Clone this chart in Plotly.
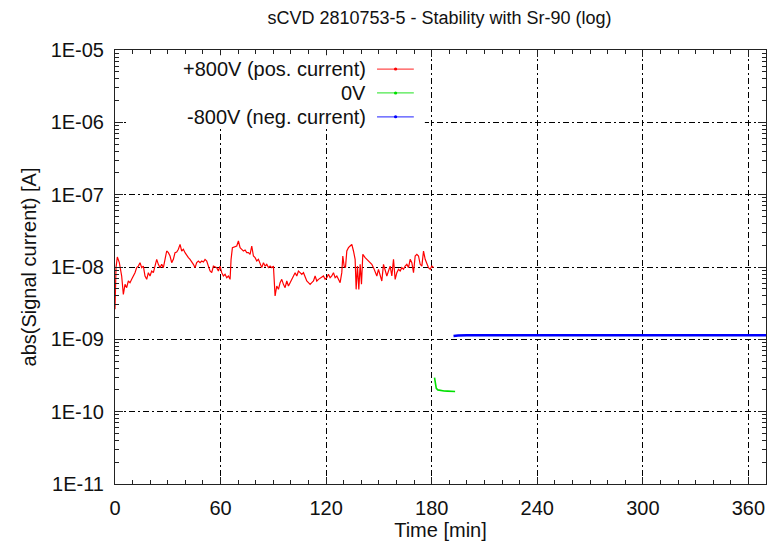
import plotly.graph_objects as go

# ---------------- data ----------------
red_t = [0.0, 0.57, 1.33, 2.46, 3.79, 4.74, 5.69, 6.64, 7.58, 8.53, 9.48, 10.43, 11.37, 12.32,
         13.27, 14.22, 15.17, 16.11, 17.06, 18.01, 18.96, 19.90, 20.85, 21.80, 22.75, 23.70,
         24.64, 25.59, 26.54, 27.49, 28.43, 29.38, 30.33, 31.28, 32.23, 33.17, 34.12, 35.07,
         36.02, 36.97, 37.91, 38.86, 39.81, 40.76, 41.71, 42.65, 43.60, 44.55, 45.50, 46.44,
         47.39, 48.34, 49.29, 50.24, 51.18, 52.13, 53.08, 54.03, 54.97, 55.92,
         57.82, 58.77, 59.71, 60.66, 61.61, 62.56, 63.51, 64.45, 65.40, 65.97, 66.73, 67.87,
         69.19, 70.14, 71.09, 72.04, 72.98, 73.93, 74.88, 75.83, 76.77, 77.72, 78.67, 79.62,
         80.57, 81.51, 82.46, 83.41, 84.36, 85.31, 86.25, 87.20, 88.15, 89.10, 90.04, 90.99,
         91.94, 92.89, 93.84, 94.78, 95.73, 96.68, 97.63, 98.58, 99.52, 100.47, 101.42,
         102.37, 103.32, 104.26, 105.21, 106.16, 107.11, 108.06, 109.00, 109.95, 110.90,
         111.85, 112.80, 113.74, 114.69, 115.64,
         118.48, 119.42, 120.37, 121.32, 122.27, 123.22, 124.16, 125.11, 126.06, 127.01,
         127.95, 128.90, 129.47, 130.23, 130.99, 131.75, 132.69, 133.64, 134.59, 135.54,
         136.48, 137.05, 137.81, 138.57, 139.33, 140.09, 140.85, 142.17, 143.12, 144.07,
         145.02, 145.96, 146.91, 147.86, 148.81, 149.75, 150.70, 151.65, 152.60, 153.55,
         154.49, 155.44, 156.39, 157.34, 158.29, 159.23, 160.18, 161.13, 162.08, 163.02,
         163.97, 164.92, 165.87, 166.82, 167.76, 168.71, 169.66, 170.61, 171.56, 172.50,
         173.45, 174.40, 175.35, 176.29, 177.24, 178.19, 179.14, 180.09, 181.03]
red_i = [2.6e-9, 0.98e-8, 1.375e-8, 1.148e-8, 0.751e-8, 0.419e-8, 0.576e-8, 0.518e-8, 0.640e-8,
         0.607e-8, 0.675e-8, 0.751e-8, 0.835e-8, 0.98e-8, 1.03e-8, 1.148e-8, 0.98e-8, 1.03e-8,
         0.751e-8, 0.675e-8, 0.835e-8, 0.751e-8, 0.88e-8, 0.835e-8, 1.03e-8, 1.276e-8,
         1.089e-8, 0.98e-8, 1.089e-8, 0.98e-8, 1.276e-8, 1.664e-8, 1.578e-8, 1.42e-8,
         1.148e-8, 1.276e-8, 1.578e-8, 1.612e-8, 1.756e-8, 2.058e-8, 1.664e-8, 1.756e-8,
         1.578e-8, 1.42e-8, 1.346e-8, 1.276e-8, 1.148e-8, 1.089e-8, 0.98e-8, 1.148e-8,
         1.21e-8, 1.148e-8, 1.21e-8, 1.173e-8, 1.276e-8, 1.21e-8, 1.03e-8, 0.88e-8, 0.835e-8,
         1.03e-8,
         0.98e-8, 0.88e-8, 1.03e-8, 0.835e-8, 0.751e-8, 0.792e-8, 0.712e-8, 0.751e-8,
         0.675e-8, 1.276e-8, 1.851e-8, 1.911e-8, 1.951e-8, 2.287e-8, 1.851e-8, 1.756e-8,
         1.664e-8, 1.718e-8, 1.578e-8, 1.578e-8, 1.497e-8, 1.951e-8, 1.42e-8, 1.346e-8,
         1.21e-8, 1.276e-8, 1.089e-8, 0.98e-8, 1.148e-8, 1.03e-8, 1.089e-8, 0.98e-8,
         1.03e-8, 0.98e-8, 1.03e-8, 0.397e-8, 0.546e-8, 0.491e-8, 0.607e-8, 0.675e-8,
         0.576e-8, 0.518e-8, 0.640e-8, 0.546e-8, 0.607e-8, 0.675e-8, 0.712e-8, 0.835e-8,
         0.751e-8, 0.88e-8, 0.835e-8, 0.792e-8, 0.835e-8, 0.712e-8, 0.640e-8, 0.607e-8,
         0.576e-8, 0.607e-8, 0.640e-8, 0.751e-8, 0.640e-8, 0.675e-8,
         0.751e-8, 0.675e-8, 0.712e-8, 0.792e-8, 0.712e-8, 0.751e-8, 0.835e-8, 0.712e-8,
         0.751e-8, 0.675e-8, 0.607e-8, 0.835e-8, 1.42e-8, 1.03e-8, 0.98e-8, 1.664e-8,
         1.851e-8, 1.951e-8, 2.058e-8, 1.664e-8, 1.276e-8, 0.491e-8, 1.03e-8, 0.491e-8,
         1.089e-8, 0.576e-8, 1.497e-8, 1.346e-8, 1.276e-8, 1.21e-8, 1.148e-8, 1.089e-8,
         0.98e-8, 0.88e-8, 0.751e-8, 0.928e-8, 0.751e-8, 0.640e-8, 1.089e-8, 0.928e-8,
         0.751e-8, 0.88e-8, 1.03e-8, 0.751e-8, 1.276e-8, 0.675e-8, 0.835e-8, 0.928e-8,
         0.88e-8, 0.98e-8, 0.928e-8, 1.03e-8, 1.089e-8, 0.98e-8, 1.276e-8, 1.148e-8,
         0.835e-8, 1.42e-8, 1.497e-8, 1.42e-8, 1.089e-8, 1.03e-8, 1.664e-8, 1.276e-8,
         1.089e-8, 0.98e-8, 0.928e-8, 1.03e-8, 0.98e-8]

green_t = [181.6, 182.0, 182.6, 183.5, 185.0, 187.0, 189.0, 191.0, 193.3]
green_i = [2.95e-10, 2.6e-10, 2.1e-10, 2.0e-10, 1.95e-10, 1.93e-10, 1.92e-10, 1.9e-10, 1.9e-10]

blue_t = [192.4, 195, 200, 205, 210, 215, 220, 225, 230, 235, 240, 245, 250, 255, 260, 265,
          270, 275, 280, 285, 290, 295, 300, 305, 310, 315, 320, 325, 330, 335, 340, 345,
          350, 355, 360, 365, 370]
blue_i = [1.11e-9, 1.13e-9, 1.14e-9, 1.14e-9, 1.135e-9, 1.14e-9, 1.145e-9, 1.14e-9, 1.14e-9,
          1.145e-9, 1.14e-9, 1.145e-9, 1.14e-9, 1.14e-9, 1.145e-9, 1.15e-9, 1.14e-9, 1.145e-9,
          1.15e-9, 1.145e-9, 1.14e-9, 1.145e-9, 1.15e-9, 1.145e-9, 1.14e-9, 1.145e-9, 1.14e-9,
          1.145e-9, 1.15e-9, 1.145e-9, 1.14e-9, 1.145e-9, 1.15e-9, 1.145e-9, 1.14e-9,
          1.145e-9, 1.14e-9]

series_names = ["+800V (pos. current)", "0V", "-800V (neg. current)"]
series_colors = ["#ff0000", "#00e000", "#0000ff"]

x_ticks = [0, 60, 120, 180, 240, 300, 360]
y_tickvals = [1e-11, 1e-10, 1e-9, 1e-8, 1e-7, 1e-6, 1e-5]
y_ticktext = ["1E-11", "1E-10", "1E-09", "1E-08", "1E-07", "1E-06", "1E-05"]

# ---------------- figure ----------------
FONT = "Liberation Sans, Arial, Helvetica, sans-serif"
fig = go.Figure()
for t, v, c, w in [(red_t, red_i, series_colors[0], 1.2),
                   (green_t, green_i, series_colors[1], 1.6),
                   (blue_t, blue_i, series_colors[2], 2.6)]:
    fig.add_trace(go.Scatter(x=t, y=v, mode="lines", line=dict(color=c, width=w),
                             showlegend=False, hoverinfo="skip"))

grid_dash = "6px,3px,2px,3px"
fig.update_xaxes(
    range=[0, 370], tickvals=x_ticks, ticks="inside", ticklen=7, tickcolor="#222",
    showline=True, linecolor="#222", linewidth=1, mirror="ticks",
    showgrid=True, gridcolor="#000", griddash=grid_dash, gridwidth=1, zeroline=False,
    minor=dict(dtick=10, ticks="inside", ticklen=4, tickcolor="#222", showgrid=False),
    tickfont=dict(family=FONT, size=20, color="#111"), ticklabelstandoff=6,
    title=dict(text="Time [min]", font=dict(family=FONT, size=20, color="#111"), standoff=4),
    automargin=False,
)
fig.update_yaxes(
    type="log", range=[-11, -5], tickvals=y_tickvals, ticktext=y_ticktext,
    ticks="inside", ticklen=8, tickcolor="#222",
    showline=True, linecolor="#222", linewidth=1, mirror="ticks",
    showgrid=True, gridcolor="#000", griddash=grid_dash, gridwidth=1, zeroline=False,
    minor=dict(dtick="D1", ticks="inside", ticklen=4, tickcolor="#222", showgrid=False),
    tickfont=dict(family=FONT, size=20, color="#111"), ticklabelstandoff=6,
    title=dict(text="abs(Signal current) [A]", font=dict(family=FONT, size=20, color="#111"),
               standoff=8),
    automargin=False,
)

# legend box (white, no border) hiding the grid behind it
fig.add_shape(type="rect", xref="paper", yref="paper", x0=0.02, x1=0.476, y0=0.820, y1=0.988,
              fillcolor="white", line=dict(width=0), layer="above")

# legend (gnuplot style: text right-aligned, sample line to the right)
leg_rows = [0.956, 0.901, 0.846]
for name, col, yy in zip(series_names, series_colors, leg_rows):
    fig.add_annotation(x=0.3886, y=yy, xref="paper", yref="paper", text=name,
                       showarrow=False, xanchor="right", yanchor="middle",
                       font=dict(family=FONT, size=20, color="#111"))
    fig.add_shape(type="line", xref="paper", yref="paper", x0=0.4025, x1=0.459, y0=yy, y1=yy,
                  line=dict(color=col, width=1.2), opacity=0.7, layer="above")
    fig.add_shape(type="circle", xref="paper", yref="paper",
                  x0=0.4285, x1=0.4335, y0=yy - 0.0035, y1=yy + 0.0035,
                  fillcolor=col, line=dict(width=0), layer="above")

fig.update_layout(
    width=767, height=544,
    margin=dict(l=115, r=1, t=50, b=60),
    paper_bgcolor="white", plot_bgcolor="white",
    title=dict(text="sCVD 2810753-5 - Stability with Sr-90 (log)", x=0.573, xanchor="center",
               y=0.967, yanchor="middle", yref="container",
               font=dict(family=FONT, size=18, color="#111")),
    showlegend=False,
)

fig.write_html("out.html")
